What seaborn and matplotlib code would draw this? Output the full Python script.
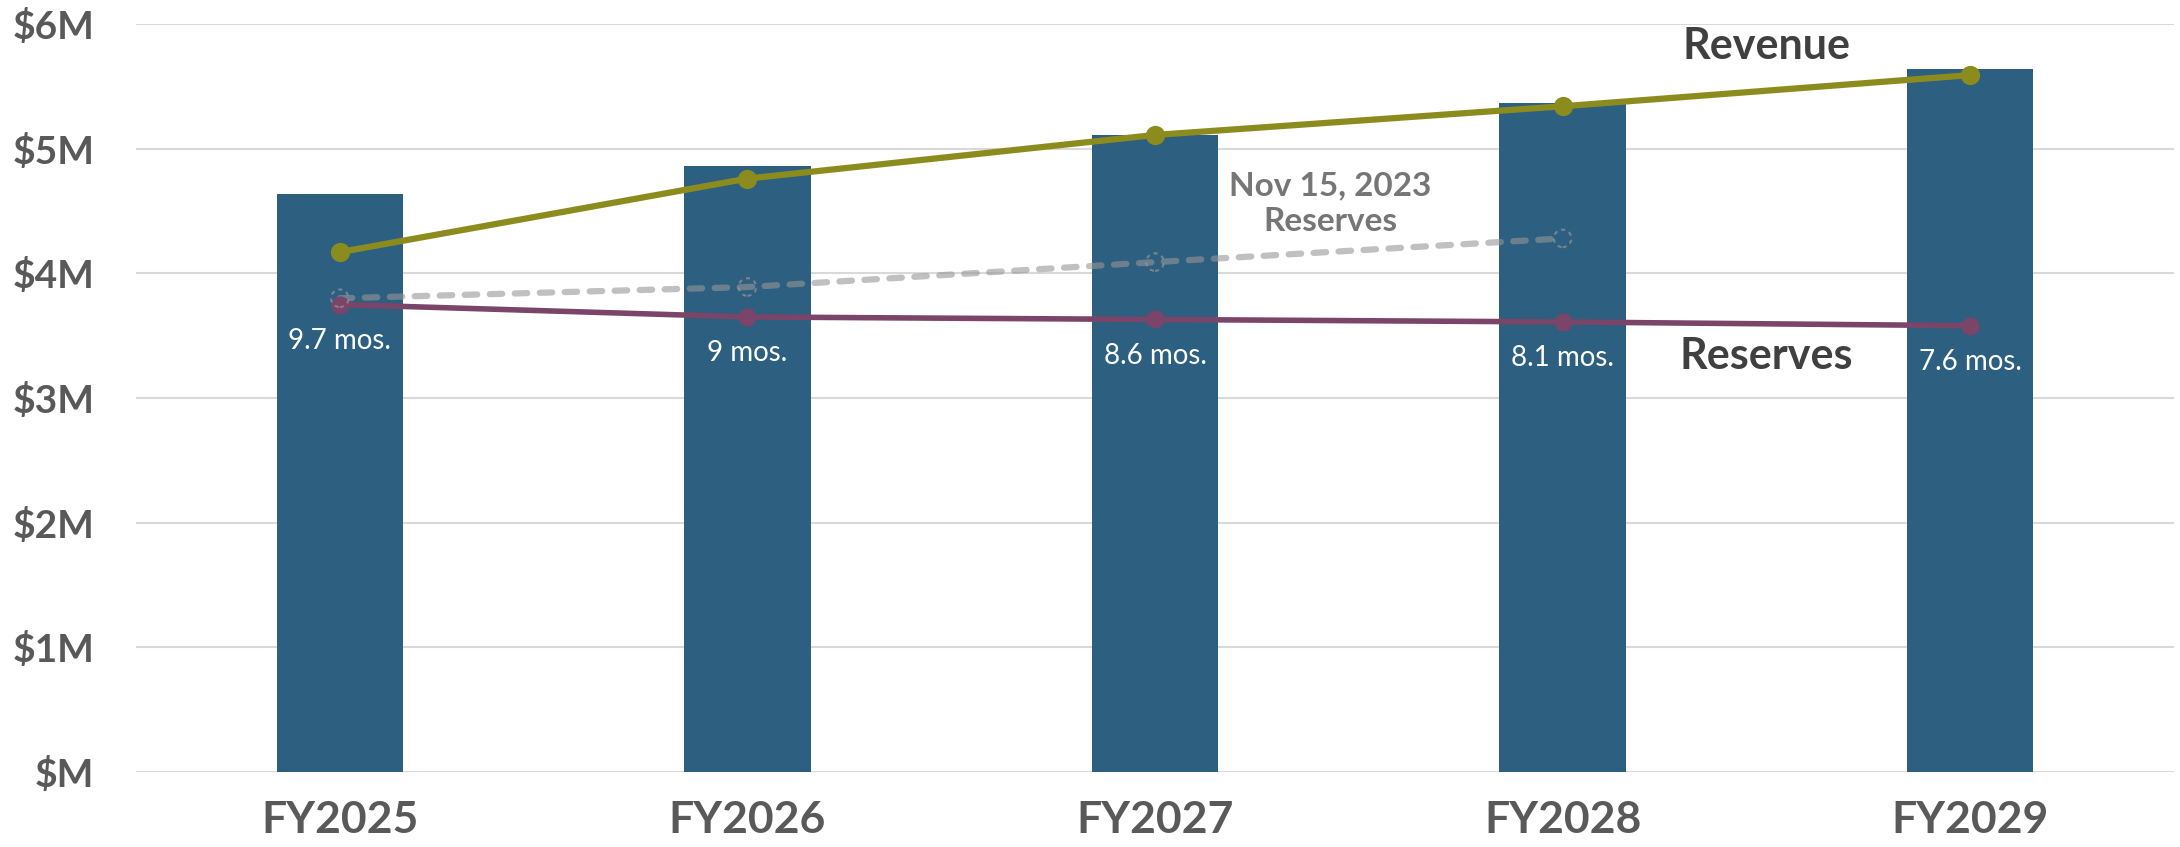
import numpy as np
import pandas as pd
import seaborn as sns
import matplotlib.pyplot as plt
from matplotlib.ticker import FuncFormatter

# values in $M
years = ["FY2025", "FY2026", "FY2027", "FY2028", "FY2029"]
expenses = [4.64, 4.86, 5.11, 5.37, 5.64]
revenue = [4.17, 4.76, 5.11, 5.34, 5.59]
reserves = [3.75, 3.65, 3.63, 3.61, 3.58]
nov_reserves = [3.80, 3.89, 4.09, 4.28]   # Nov 15, 2023 reserves, FY2025-FY2028
months = [9.7, 9, 8.6, 8.1, 7.6]           # months of reserves

bar_color = "#2C5F80"
rev_color = "#8C8C1E"
res_color = "#7B4469"
nov_color = "#969696"

sns.set_style("white")
plt.rcParams["font.family"] = ["Lato", "DejaVu Sans"]

fig = plt.figure(figsize=(21.8, 8.47), dpi=100)
ax = fig.add_axes([136 / 2180, 75 / 847, (2174 - 136) / 2180, (772 - 24) / 847])

# bars
sns.barplot(x=years, y=expenses, color=bar_color, saturation=1, width=0.31,
            linewidth=0, ax=ax)

# Nov 15, 2023 reserves (dashed, semi-transparent)
sns.pointplot(x=years[:len(nov_reserves)], y=nov_reserves, order=years,
              color=nov_color, errorbar=None, markers="o", ax=ax,
              linewidth=4.5, markersize=0, alpha=0.6)
ln = ax.lines[-1]
ln.set_dashes([2.0, 2.0])
ln.set_dash_capstyle("round")
ax.scatter(np.arange(len(nov_reserves)), nov_reserves, s=160, facecolors="none",
           edgecolors=nov_color, alpha=0.7, linewidths=1.5,
           linestyles=(0, (2, 2)), zorder=4)

# reserves and revenue
sns.pointplot(x=years, y=reserves, order=years, color=res_color, errorbar=None,
              markers="o", ax=ax, linewidth=4, markersize=10)
sns.pointplot(x=years, y=revenue, order=years, color=rev_color, errorbar=None,
              markers="o", ax=ax, linewidth=4.5, markersize=10.5)

# months-of-reserves labels
for i, m in enumerate(months):
    ax.annotate(f"{m:g} mos.", (i, reserves[i]), xytext=(0, -26),
                textcoords="offset points", ha="center", va="center",
                fontsize=20, color="white")

ax.text(3.5, 5.82, "Revenue", ha="center", va="center", fontsize=31,
        fontweight="bold", color="#404040")
ax.text(3.5, 3.34, "Reserves", ha="center", va="center", fontsize=31,
        fontweight="bold", color="#404040")
ax.text(2.43, 4.56, "Nov 15, 2023\nReserves", ha="center", va="center",
        fontsize=24, fontweight="bold", color="#767676", linespacing=1.3)

ax.set_xlim(-0.5, len(years) - 0.5)
ax.set_ylim(0, 6)
ax.set_yticks(range(0, 7))
ax.yaxis.set_major_formatter(FuncFormatter(lambda v, p: f"${int(v) if v else ''}M"))
ax.set_axisbelow(True)
ax.yaxis.grid(True, color="#D9D9D9", linewidth=1.5)
ax.xaxis.grid(False)
sns.despine(ax=ax, left=True, bottom=True)
ax.tick_params(axis="both", length=0, labelcolor="#595959")
ax.tick_params(axis="y", labelsize=28, pad=30)
ax.tick_params(axis="x", labelsize=32, pad=20)
for t in ax.get_xticklabels() + ax.get_yticklabels():
    t.set_fontweight("bold")
ax.set_xlabel("")
ax.set_ylabel("")

fig.savefig("out.png", dpi=100)
